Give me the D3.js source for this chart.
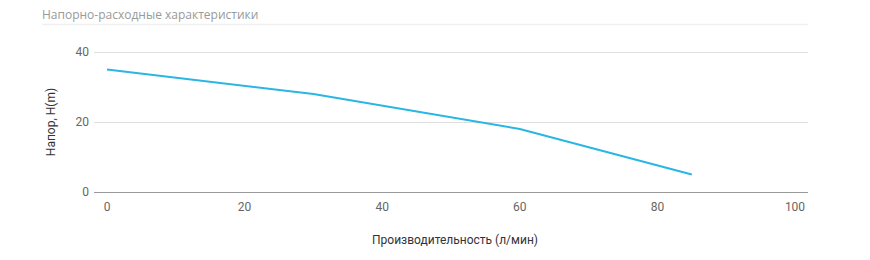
<!DOCTYPE html>
<html>
<head>
<meta charset="utf-8">
<script src="https://cdn.jsdelivr.net/npm/d3@7"></script>
<style>
  body { margin: 0; background: #fff; }
  svg { display: block; }
</style>
</head>
<body>
<svg id="container" width="870" height="260"></svg>
<script>
const flow = [0, 30, 60, 85];
const head = [35, 28, 18, 5];
const xTicks = [0, 20, 40, 60, 80, 100];
const yTicks = [0, 20, 40];
const titleText = "Напорно-расходные характеристики";
const xLabel = "Производительность (л/мин)";
const yLabel = "Напор, H(m)";

const svg = d3.select('#container');

// header
svg.append('text')
    .attr('x', 42).attr('y', 19)
    .attr('font-family', 'Open Sans, sans-serif')
    .attr('font-size', 12)
    .attr('fill', '#999')
    .text(titleText);
svg.append('line')
    .attr('x1', 42).attr('x2', 808)
    .attr('y1', 24.5).attr('y2', 24.5)
    .attr('stroke', '#f0f0f0').attr('stroke-width', 1.5);

const xScale = d3.scaleLinear().domain([0, 100]).range([107, 795]);
const yScale = d3.scaleLinear().domain([0, 40]).range([192, 52]);
const gridLeft = 94, gridRight = 808;

// y grid + labels
const yg = svg.append('g');
yTicks.forEach(t => {
    yg.append('line')
        .attr('x1', gridLeft).attr('x2', gridRight)
        .attr('y1', Math.round(yScale(t)) + 0.5).attr('y2', Math.round(yScale(t)) + 0.5)
        .attr('stroke', t === 0 ? '#999' : '#e0e0e0')
        .attr('stroke-width', 1);
    yg.append('text')
        .attr('x', 89).attr('y', yScale(t) + 4)
        .attr('text-anchor', 'end')
        .attr('font-family', 'Roboto, sans-serif')
        .attr('font-size', 12)
        .attr('fill', '#666')
        .text(t);
});

// x labels
xTicks.forEach(t => {
    svg.append('text')
        .attr('x', xScale(t)).attr('y', 211)
        .attr('text-anchor', 'middle')
        .attr('font-family', 'Roboto, sans-serif')
        .attr('font-size', 12)
        .attr('fill', '#666')
        .text(t);
});

// axis titles
svg.append('text')
    .attr('x', 455).attr('y', 244)
    .attr('text-anchor', 'middle')
    .attr('font-family', 'Roboto, sans-serif')
    .attr('font-size', 12)
    .attr('fill', '#333')
    .text(xLabel);
svg.append('text')
    .attr('transform', 'translate(55,122) rotate(-90)')
    .attr('text-anchor', 'middle')
    .attr('font-family', 'Roboto, sans-serif')
    .attr('font-size', 12)
    .attr('fill', '#333')
    .text(yLabel);

// curve
const pts = flow.map((f, i) => [f, head[i]]);
const line = d3.line().x(d => xScale(d[0])).y(d => yScale(d[1]));
svg.append('path')
    .datum(pts)
    .attr('d', line)
    .attr('fill', 'none')
    .attr('stroke', '#29b6e4')
    .attr('stroke-width', 2);
</script>
</body>
</html>
